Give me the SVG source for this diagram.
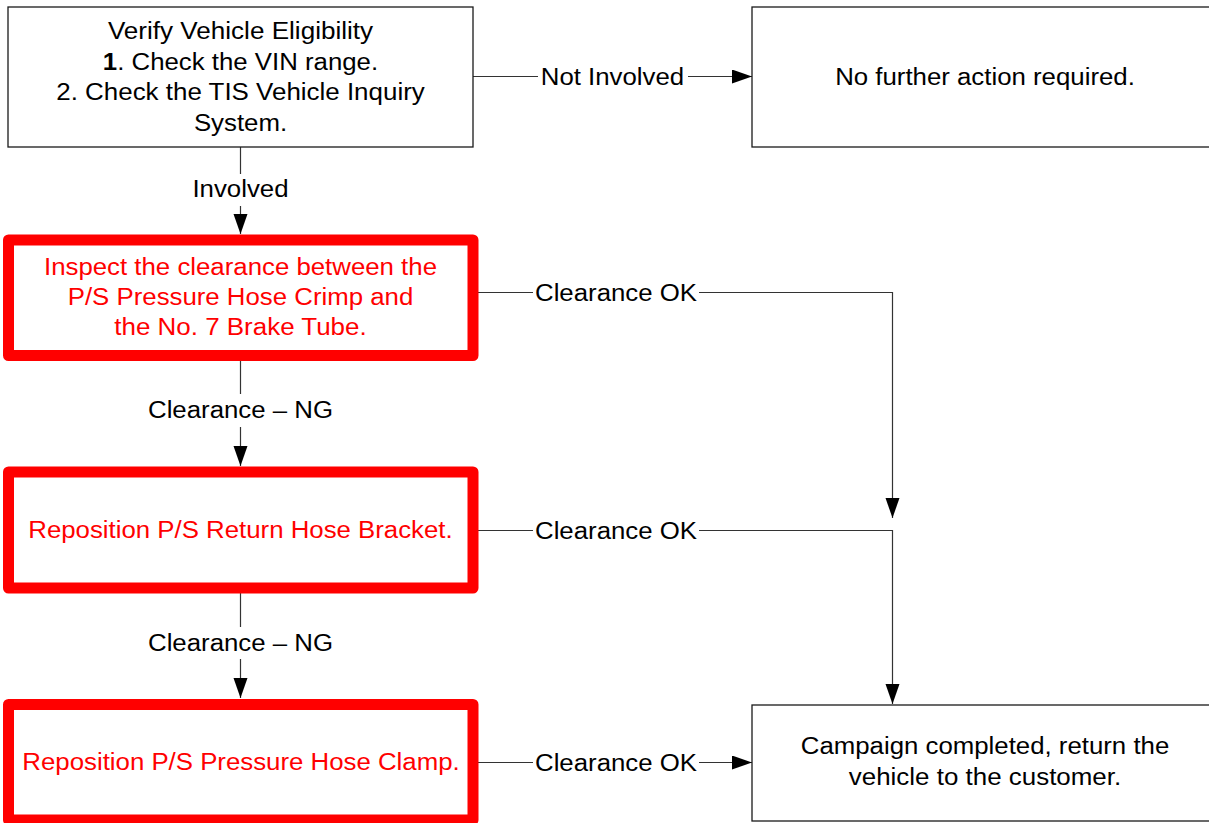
<svg xmlns="http://www.w3.org/2000/svg" width="1209" height="823" viewBox="0 0 1209 823">
<style>
text{font-family:"Liberation Sans",Arial,sans-serif;font-size:23px;text-anchor:middle}
.blk{fill:#000}
.red{fill:#ff0000}
.box{fill:#fff;stroke:#1a1a1a;stroke-width:1.3}
.rbox{fill:#fff;stroke:#ff0000;stroke-width:11;stroke-linejoin:round}
.conn{fill:none;stroke:#333;stroke-width:1.2}
</style>
<defs>
<marker id="arr" markerUnits="userSpaceOnUse" markerWidth="21" markerHeight="15" refX="20" refY="7" orient="auto">
<path d="M0,0 L20,7 L0,14 z" fill="#000"/>
</marker>
</defs>
<rect width="1209" height="823" fill="#fff"/>

<g id="connectors">
<path class="conn" d="M240.5,147 V174 M240.5,206 V234" marker-end="url(#arr)"/>
<path class="conn" d="M473,76.5 H538 M688,76.5 H752" marker-end="url(#arr)"/>
<path class="conn" d="M478,292.5 H533 M699,292.5 H892.5 V518" marker-end="url(#arr)"/>
<path class="conn" d="M478,530.5 H533 M699,530.5 H892.5 V704" marker-end="url(#arr)"/>
<path class="conn" d="M478,762.5 H533 M699,762.5 H752" marker-end="url(#arr)"/>
<path class="conn" d="M240.5,361 V394 M240.5,427 V466" marker-end="url(#arr)"/>
<path class="conn" d="M240.5,593 V627 M240.5,659 V698" marker-end="url(#arr)"/>
<text class="blk" x="240.5" y="197" textLength="96.1" lengthAdjust="spacingAndGlyphs">Involved</text>
<text class="blk" x="612.5" y="85" textLength="143.4" lengthAdjust="spacingAndGlyphs">Not Involved</text>
<text class="blk" x="616" y="300.5" textLength="162" lengthAdjust="spacingAndGlyphs">Clearance OK</text>
<text class="blk" x="616" y="538.5" textLength="162" lengthAdjust="spacingAndGlyphs">Clearance OK</text>
<text class="blk" x="616" y="770.5" textLength="162" lengthAdjust="spacingAndGlyphs">Clearance OK</text>
<text class="blk" x="240.5" y="418" textLength="185" lengthAdjust="spacingAndGlyphs">Clearance – NG</text>
<text class="blk" x="240.5" y="650.5" textLength="185" lengthAdjust="spacingAndGlyphs">Clearance – NG</text>
</g>

<g id="verify">
<rect class="box" x="8" y="7" width="465" height="140"/>
<text class="blk" x="240.5" y="39" textLength="265.2" lengthAdjust="spacingAndGlyphs">Verify Vehicle Eligibility</text>
<text class="blk" x="240.5" y="69.5" textLength="275.3" lengthAdjust="spacingAndGlyphs"><tspan font-weight="bold">1</tspan>. Check the VIN range.</text>
<text class="blk" x="240.5" y="100" textLength="368.5" lengthAdjust="spacingAndGlyphs">2. Check the TIS Vehicle Inquiry</text>
<text class="blk" x="240.5" y="130.5" textLength="93.2" lengthAdjust="spacingAndGlyphs">System.</text>
</g>

<g id="no-action">
<rect class="box" x="752" y="7" width="466" height="140"/>
<text class="blk" x="985" y="85" textLength="299.7" lengthAdjust="spacingAndGlyphs">No further action required.</text>
</g>

<g id="inspect">
<rect class="rbox" x="8.5" y="240" width="464.5" height="115.5"/>
<text class="red" x="240.5" y="274.5" textLength="393" lengthAdjust="spacingAndGlyphs">Inspect the clearance between the</text>
<text class="red" x="240.5" y="304.5" textLength="345.5" lengthAdjust="spacingAndGlyphs">P/S Pressure Hose Crimp and</text>
<text class="red" x="240.5" y="334.5" textLength="252.4" lengthAdjust="spacingAndGlyphs">the No. 7 Brake Tube.</text>
</g>

<g id="return-bracket">
<rect class="rbox" x="8.5" y="472" width="464.5" height="116"/>
<text class="red" x="240.5" y="537.5" textLength="424.4" lengthAdjust="spacingAndGlyphs">Reposition P/S Return Hose Bracket.</text>
</g>

<g id="pressure-clamp">
<rect class="rbox" x="8.5" y="704.5" width="464.5" height="115.5"/>
<text class="red" x="241" y="770" textLength="437.3" lengthAdjust="spacingAndGlyphs">Reposition P/S Pressure Hose Clamp.</text>
</g>

<g id="campaign">
<rect class="box" x="752" y="705" width="466" height="116"/>
<text class="blk" x="985" y="754" textLength="368.5" lengthAdjust="spacingAndGlyphs">Campaign completed, return the</text>
<text class="blk" x="985" y="784.5" textLength="272.4" lengthAdjust="spacingAndGlyphs">vehicle to the customer.</text>
</g>
</svg>
